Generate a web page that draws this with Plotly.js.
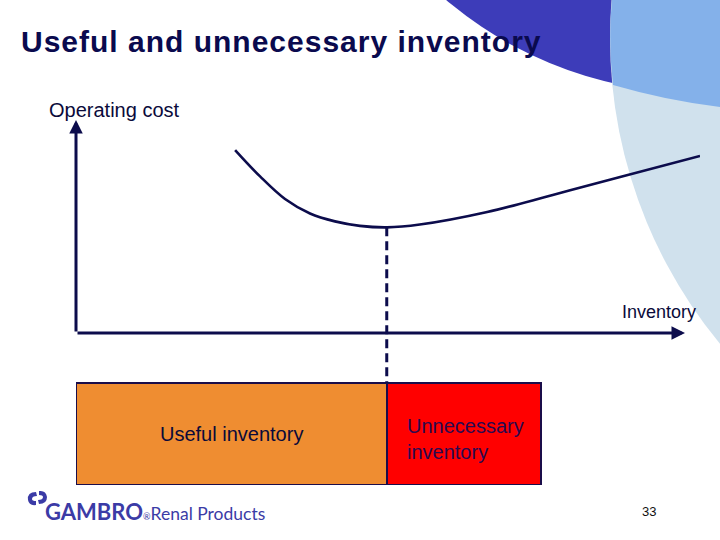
<!DOCTYPE html>
<html>
<head>
<meta charset="utf-8">
<script src="https://cdn.plot.ly/plotly-3.0.1.min.js"></script>
<style>html,body{margin:0;padding:0;background:#fff;}#chart{width:720px;height:540px;}</style>
</head>
<body>
<div id="chart"></div>
<script>
// ---- data ----
const inventory      = [2.55, 2.95, 3.35, 3.75, 4.15, 4.55, 4.98, 5.51, 6.59, 7.64, 8.72, 10.0];
const operatingCost  = [8.59, 7.35, 6.29, 5.61, 5.24, 5.03, 4.96, 5.09, 5.68, 6.48, 7.32, 8.31];
const optimumInventory = 4.98;
const minimumCost      = 4.96;
const segmentNames   = ["Useful inventory", "Unnecessary inventory"];
const segmentValues  = [4.98, 2.47];
const segmentColors  = ["#EF8D31", "#FF0000"];
const barCenter = -4.745, barThickness = 4.79;
const barTop = barCenter + barThickness / 2;
const xAxisEnd = 9.76, yAxisTop = 10;

const navy = "#0c0c4c";
const W = 720, H = 540;
const px = v => v / W;
const py = v => 1 - v / H;
const FONT = "Liberation Sans, Arial, sans-serif";

const traces = [
  {
    type: "bar", orientation: "h", name: segmentNames[0],
    y: [barCenter], x: [segmentValues[0]], width: [barThickness],
    marker: {color: segmentColors[0], line: {color: "#1a0d4a", width: 2.5}},
    hoverinfo: "skip"
  },
  {
    type: "bar", orientation: "h", name: segmentNames[1],
    y: [barCenter], x: [segmentValues[1]], width: [barThickness],
    marker: {color: segmentColors[1], line: {color: "#1a0d4a", width: 2.5}},
    hoverinfo: "skip"
  },
  {
    type: "scatter", mode: "lines",
    x: [optimumInventory, optimumInventory], y: [minimumCost, barTop],
    line: {color: navy, width: 3, dash: "9px,5px"}, hoverinfo: "skip"
  },
  {
    type: "scatter", mode: "lines", name: "Operating cost",
    x: inventory, y: operatingCost,
    line: {color: navy, width: 2.6, shape: "spline", smoothing: 1}, hoverinfo: "skip"
  }
];

const hiddenAxis = {showgrid: false, zeroline: false, showline: false, showticklabels: false, ticks: "", fixedrange: true};

const layout = {
  width: W, height: H,
  margin: {l: 0, r: 0, t: 0, b: 0},
  paper_bgcolor: "#ffffff", plot_bgcolor: "rgba(0,0,0,0)",
  showlegend: false, hovermode: false, barmode: "stack",
  title: {
    text: "<b><span style='letter-spacing:1px'>Useful and unnecessary inventory</span></b>",
    x: px(21), xanchor: "left", y: py(41), yanchor: "middle",
    font: {family: FONT, size: 30, color: "#0a0a4e"}
  },
  xaxis: Object.assign({domain: [px(76), px(700)], range: [0, 10]}, hiddenAxis),
  yaxis: Object.assign({domain: [py(485), py(120)], range: [barCenter - barThickness / 2, 10]}, hiddenAxis),
  shapes: [
    // decorative background circles (top right)
    {type: "circle", xref: "paper", yref: "paper", layer: "below",
     x0: px(307), x1: px(1093), y0: py(-693), y1: py(93),
     fillcolor: "#3d3cb9", line: {width: 0}},
    {type: "circle", xref: "paper", yref: "paper", layer: "below",
     x0: px(610), x1: px(1570), y0: py(-442), y1: py(518),
     fillcolor: "#d0e1ed", line: {width: 0}},
    {type: "path", xref: "paper", yref: "paper", layer: "below",
     path: `M ${px(612)} ${py(-1)} L ${px(721)} ${py(-1)} L ${px(721)} ${py(107)} Q ${px(668)} ${py(101)} ${px(613)} ${py(85)} Q ${px(608)} ${py(42)} ${px(612)} ${py(-1)} Z`,
     fillcolor: "#84b1ea", line: {width: 0}},
    // logo symbol
    {type: "path", xref: "paper", yref: "paper",
     path: `M ${px(36)} ${py(492)} Q ${px(27)} ${py(492)} ${px(28)} ${py(500)} Q ${px(29)} ${py(506)} ${px(36)} ${py(505)} L ${px(36)} ${py(501)} Q ${px(32)} ${py(501)} ${px(32)} ${py(499)} Q ${px(32)} ${py(496)} ${px(37)} ${py(496)} Z`,
     fillcolor: "#3b3ba6", line: {width: 0}},
    {type: "path", xref: "paper", yref: "paper",
     path: `M ${px(39)} ${py(504)} Q ${px(47)} ${py(504)} ${px(47)} ${py(497)} Q ${px(46)} ${py(490)} ${px(39)} ${py(491)} L ${px(39)} ${py(495)} Q ${px(43)} ${py(495)} ${px(43)} ${py(497)} Q ${px(43)} ${py(500)} ${px(38)} ${py(500)} Z`,
     fillcolor: "#3b3ba6", line: {width: 0}}
  ],
  annotations: [
    // axes with arrow heads
    {xref: "x", yref: "y", axref: "x", ayref: "y", x: 0, y: yAxisTop, ax: 0, ay: 0,
     text: "", showarrow: true, arrowhead: 2, arrowsize: 0.9, arrowwidth: 3, arrowcolor: navy, standoff: 0},
    {xref: "x", yref: "y", axref: "x", ayref: "y", x: xAxisEnd, y: 0, ax: 0, ay: 0,
     text: "", showarrow: true, arrowhead: 2, arrowsize: 0.9, arrowwidth: 3, arrowcolor: navy, standoff: 0},
    {xref: "paper", yref: "paper", x: px(47), y: py(110), xanchor: "left", yanchor: "middle", showarrow: false,
     text: "Operating cost", font: {family: FONT, size: 20, color: "#0a0a3a"}},
    {xref: "paper", yref: "paper", x: px(698), y: py(312), xanchor: "right", yanchor: "middle", showarrow: false,
     text: "Inventory", font: {family: FONT, size: 18, color: "#0a0a3a"}},
    // bar labels
    {xref: "x", yref: "y", x: segmentValues[0] / 2, y: barCenter, xanchor: "center", yanchor: "middle", showarrow: false,
     text: segmentNames[0], font: {family: FONT, size: 20, color: "#0a0a3a"}},
    {xref: "paper", yref: "paper", x: px(405), y: py(439), xanchor: "left", yanchor: "middle", showarrow: false, align: "left",
     text: "Unnecessary<br>inventory", font: {family: FONT, size: 20, color: "#2a0a50"}},
    // footer
    {xref: "paper", yref: "paper", x: px(43), y: py(511), xanchor: "left", yanchor: "middle", showarrow: false,
     text: "<b>GAMBRO</b><span style='font-size:9px'>®</span><span style='font-size:17.5px'>Renal Products</span>",
     font: {family: "Lato, Open Sans, sans-serif", size: 22, color: "#3b3ba6"}},
    {xref: "paper", yref: "paper", x: px(649), y: py(511), xanchor: "center", yanchor: "middle", showarrow: false,
     text: "33", font: {family: FONT, size: 13, color: "#111111"}}
  ]
};

Plotly.newPlot("chart", traces, layout, {staticPlot: true, displayModeBar: false});
</script>
</body>
</html>
